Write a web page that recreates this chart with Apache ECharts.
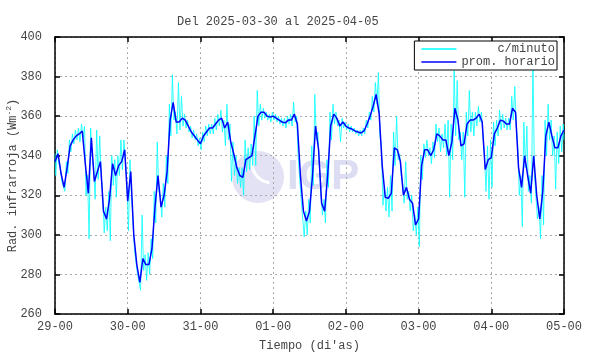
<!DOCTYPE html>
<html>
<head>
<meta charset="utf-8">
<script src="https://cdn.jsdelivr.net/npm/echarts@6/dist/echarts.min.js"></script>
<style>
  html, body { margin: 0; padding: 0; background: #fff; }
  #chart { width: 590px; height: 354px; }
</style>
</head>
<body>
<div id="chart"></div>
<script>
// etiquetas de los ticks (cada 24 h)
const dayLabels = ['29-00', '30-00', '31-00', '01-00', '02-00', '03-00', '04-00', '05-00'];

// promedio horario, horas 0..168 desde 29-00
const hourly = [
  337, 341, 331, 324, 334, 345, 348, 350, 351, 352.5, 336, 321, 349, 327, 332, 337, 312, 308, 318, 336, 330, 335, 337, 343,
  317, 332, 300, 285, 276, 288, 285, 285, 293, 314, 330, 314, 320, 332, 358, 367, 357, 357, 359, 358, 355, 352, 350, 348,
  346, 350, 352, 354, 354, 356, 358, 359, 354, 357, 347, 341, 334, 330, 329, 338, 339, 340, 350, 360, 362, 362, 360, 359.5,
  360, 359, 358, 357, 356.6, 358, 358, 361, 356, 330, 312, 307, 312, 330, 355, 343, 316, 312, 330, 355, 361, 359, 355, 357,
  355, 354, 353.5, 352.5, 352, 351.5, 352.5, 356, 360, 365, 371, 361, 335, 319, 318.5, 321, 344, 343, 337, 320, 324, 318, 316, 305,
  308, 335, 343, 343, 340, 343, 351, 350, 348, 348, 340, 347, 364, 358, 345, 346, 356, 358, 358, 359, 361, 357, 333, 338,
  339, 351, 354, 358, 357.5, 356, 356, 364, 362, 334, 324, 340, 330, 321, 340, 320, 308, 322, 350, 357, 350, 344, 344, 350,
  353
];

const minuteHigh = [
  341, 343, 334, 328, 337, 348, 351, 353, 354, 356, 355, 330, 354, 333, 353, 350, 320, 314, 322, 340, 338, 340, 348, 348,
  325, 338, 306, 291, 280, 310, 290, 291, 298, 322, 347, 320, 326, 340, 366, 381, 362, 377, 370, 361, 358, 355, 353, 351,
  349, 352, 355, 356, 356, 359, 361, 363, 358, 366, 356, 347, 340, 334, 334, 348, 344, 346, 360, 373, 366, 364, 362, 361,
  362, 361, 360, 359, 359, 360, 361, 367, 360, 340, 318, 312, 318, 345, 371, 352, 322, 318, 338, 362, 366, 362, 358, 359,
  357, 356, 355, 354, 353, 353, 354, 358, 362, 370, 377, 382, 345, 325, 324, 330, 352, 360, 341, 326, 337, 322, 320, 310,
  314, 340, 346, 348, 344, 347, 356, 354, 351, 356, 358, 356, 383, 378, 352, 352, 362, 373, 362, 362, 365, 362, 340, 345,
  348, 357, 358, 363, 361, 359, 359, 370, 375, 345, 330, 357, 355, 330, 388, 330, 314, 330, 358, 366, 358, 350, 352, 355,
  356
];
const minuteLow = [
  330, 336, 327, 322, 331, 342, 346, 348, 347, 349, 320, 298, 340, 318, 328, 330, 301, 302, 297, 325, 319, 330, 333, 338,
  302, 320, 292, 280, 272, 282, 277, 280, 288, 306, 322, 309, 314, 326, 350, 358, 351, 353, 355, 354, 352, 349, 348, 345,
  343, 347, 350, 351, 351, 353, 355, 352, 345, 348, 327, 330, 326, 324, 320, 332, 333, 335, 335, 355, 358, 359, 358, 357,
  358, 357, 356, 355, 354, 356, 355, 357, 340, 318, 299, 300, 306, 325, 348, 335, 310, 306, 324, 348, 356, 355, 347, 354,
  353, 352, 352, 351, 350, 350, 351, 354, 358, 362, 366, 350, 315, 312, 309, 312, 335, 338, 330, 316, 318, 312, 302, 300,
  294, 328, 339, 340, 336, 339, 347, 342, 344, 340, 319, 338, 350, 348, 338, 319, 350, 352, 350, 355, 357, 350, 322, 318,
  324, 345, 350, 353, 354, 353, 353, 358, 355, 320, 304, 334, 322, 316, 330, 308, 298, 305, 340, 348, 340, 323, 336, 342,
  348
];

const hourlyData = hourly.map((v, i) => [i, v]);
const minuteData = [];
minuteHigh.forEach((v, i) => {
  minuteData.push([Math.max(0, i - 0.25), v]);
  minuteData.push([Math.min(168, i + 0.25), minuteLow[i]]);
});

const mono = 'Liberation Mono';
const textColor = '#444';

const chart = echarts.init(document.getElementById('chart'));

const commonX = {
  type: 'value',
  min: 0,
  max: 168,
  interval: 24,
  axisLine: { show: true, onZero: false, lineStyle: { color: '#000', width: 1.5 } },
  axisTick: { show: true, inside: true, length: 5, lineStyle: { color: '#000', width: 1.5 } },
};
const commonY = {
  type: 'value',
  min: 260,
  max: 400,
  interval: 20,
  axisLine: { show: true, onZero: false, lineStyle: { color: '#000', width: 1.5 } },
  axisTick: { show: true, inside: true, length: 5, lineStyle: { color: '#000', width: 1.5 } },
};

chart.setOption({
  animation: false,
  backgroundColor: '#fff',
  title: {
    text: 'Del 2025-03-30 al 2025-04-05',
    left: 172,
    top: 11,
    textStyle: { fontFamily: mono, fontSize: 12, fontWeight: 'normal', color: textColor },
  },
  grid: { left: 55, right: 26, top: 37, bottom: 40, outerBoundsMode: 'none', containLabel: false },
  legend: {
    orient: 'vertical',
    right: 33,
    top: 41,
    padding: [2, 2, 2, 7],
    itemGap: 1,
    itemWidth: 35,
    itemHeight: 1.5,
    icon: 'rect',
    borderColor: '#000',
    borderWidth: 1,
    backgroundColor: '#fff',
    formatter: name => name === 'c/minuto' ? '     c/minuto' : name,
    textStyle: { fontFamily: mono, fontSize: 12, color: textColor },
  },
  graphic: [
    {
      type: 'circle', z: -10, silent: true,
      shape: { cx: 258, cy: 177, r: 26 },
      style: { fill: '#e2e2f4' },
    },
    {
      type: 'arc', z: -9, silent: true,
      shape: { cx: 272, cy: 163, r: 20, startAngle: 1.7, endAngle: 3.5 },
      style: { stroke: '#fff', lineWidth: 3, fill: null },
    },
    {
      type: 'text', z: -10, silent: true,
      left: 287, top: 156,
      style: { text: 'IGP', fill: '#dcdcf2', font: 'bold 42px "Liberation Sans"' },
    },
  ],
  xAxis: [
    Object.assign({}, commonX, {
      position: 'bottom',
      name: "Tiempo (di'as)",
      nameLocation: 'middle',
      nameGap: 26,
      nameMoveOverlap: false,
      nameTextStyle: { fontFamily: mono, fontSize: 12, color: textColor },
      axisLabel: {
        margin: 7,
        fontFamily: mono, fontSize: 12, color: textColor,
        formatter: v => dayLabels[v / 24],
      },
      splitLine: { show: true, lineStyle: { color: '#aaa', type: [2, 3], width: 1 } },
    }),
    Object.assign({}, commonX, {
      position: 'top',
      axisLabel: { show: false },
      splitLine: { show: false },
    }),
  ],
  yAxis: [
    Object.assign({}, commonY, {
      position: 'left',
      name: 'Rad. infrarroja (Wm{sup|-2})',
      nameLocation: 'middle',
      nameGap: 34,
      nameMoveOverlap: false,
      nameTextStyle: {
        fontFamily: mono, fontSize: 12, color: textColor,
        rich: { sup: { fontFamily: mono, fontSize: 8, color: textColor, padding: [0, 0, 8, 0] } },
      },
      axisLabel: { margin: 13, fontFamily: mono, fontSize: 12, color: textColor },
      splitLine: { show: true, lineStyle: { color: '#aaa', type: [2, 3], width: 1 } },
    }),
    Object.assign({}, commonY, {
      position: 'right',
      axisLabel: { show: false },
      splitLine: { show: false },
    }),
  ],
  series: [
    {
      name: 'c/minuto',
      type: 'line',
      data: minuteData,
      showSymbol: false,
      symbol: 'none',
      lineStyle: { color: '#00ffff', width: 0.8 },
      itemStyle: { color: '#00ffff' },
      z: 2,
    },
    {
      name: 'prom. horario',
      type: 'line',
      data: hourlyData,
      showSymbol: false,
      symbol: 'none',
      lineStyle: { color: '#0000ff', width: 1.5 },
      itemStyle: { color: '#0000ff' },
      z: 3,
    },
  ],
});
</script>
</body>
</html>
